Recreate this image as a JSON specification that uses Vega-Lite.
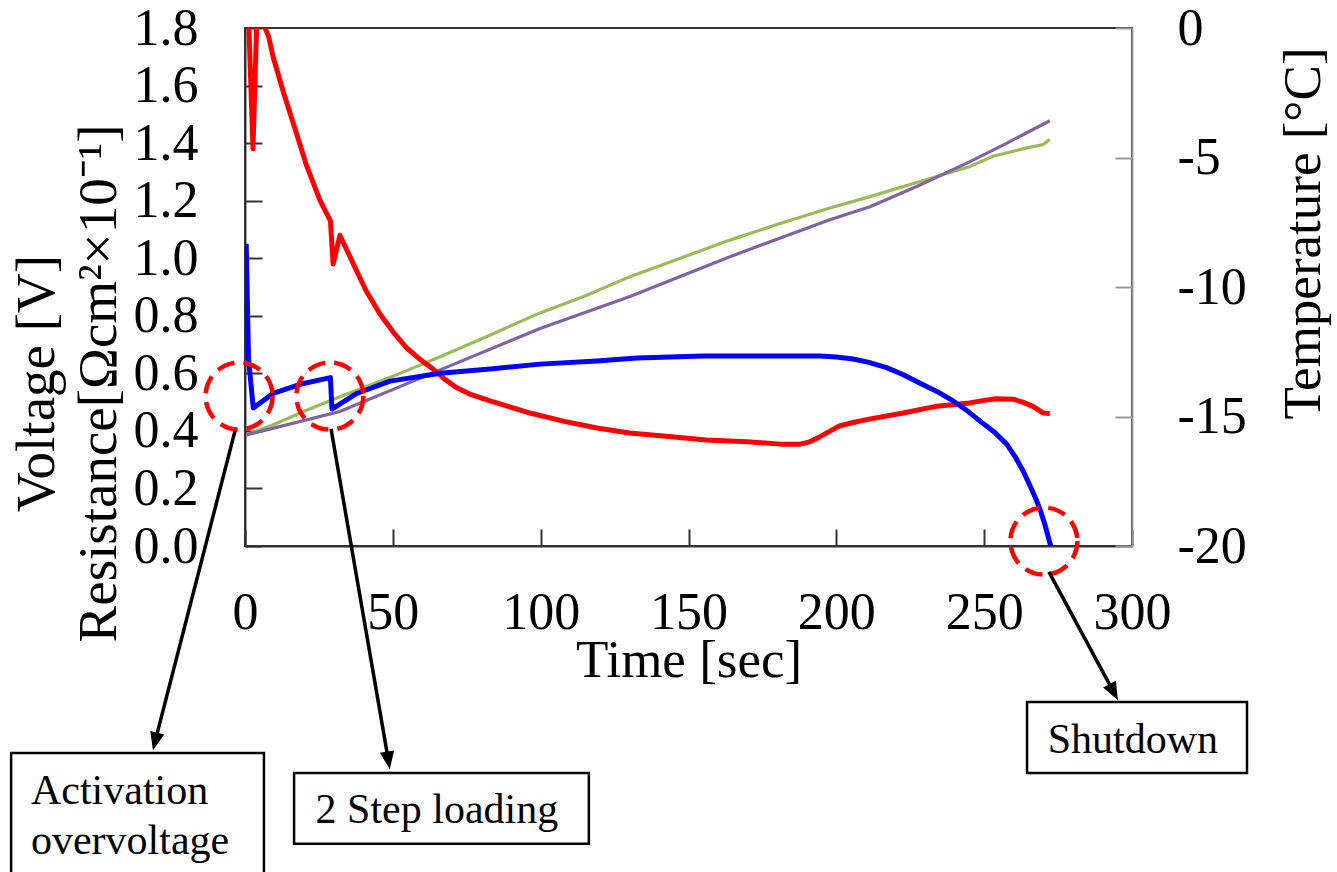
{
  "$schema": "https://vega.github.io/schema/vega-lite/v6.json",
  "width": 887,
  "height": 518,
  "autosize": {"type": "none"},
  "padding": {"left": 245, "top": 28, "right": 205, "bottom": 326},
  "background": "white",
  "config": {
    "view": {"stroke": "#333333", "strokeWidth": 2},
    "axis": {
      "grid": false,
      "labelFont": "Liberation Serif",
      "titleFont": "Liberation Serif",
      "labelColor": "#000000",
      "titleColor": "#000000",
      "titleFontWeight": "normal",
      "labelFontSize": 52,
      "titleFontSize": 53,
      "labelFlush": false,
      "labelOverlap": false,
      "tickSize": -17,
      "tickWidth": 2,
      "domainWidth": 2
    }
  },
  "datasets": {
    "resistance": [
      {"time": 0, "value": 1.9}, {"time": 1.0, "value": 1.9}, {"time": 2.7, "value": 1.38},
      {"time": 4.2, "value": 1.9}, {"time": 6.0, "value": 1.82}, {"time": 8.0, "value": 1.77},
      {"time": 9.5, "value": 1.7}, {"time": 12.9, "value": 1.58}, {"time": 16.3, "value": 1.47},
      {"time": 20.9, "value": 1.32}, {"time": 25.4, "value": 1.2}, {"time": 28.9, "value": 1.13},
      {"time": 29.8, "value": 0.98}, {"time": 32.1, "value": 1.08}, {"time": 37.8, "value": 0.955},
      {"time": 41, "value": 0.886}, {"time": 45.7, "value": 0.805}, {"time": 50, "value": 0.745},
      {"time": 54.7, "value": 0.688}, {"time": 59, "value": 0.65}, {"time": 63.6, "value": 0.615},
      {"time": 67.5, "value": 0.58}, {"time": 71.6, "value": 0.55}, {"time": 76, "value": 0.528},
      {"time": 82.9, "value": 0.504}, {"time": 89, "value": 0.485}, {"time": 96.4, "value": 0.462},
      {"time": 107.6, "value": 0.434}, {"time": 119, "value": 0.41}, {"time": 130, "value": 0.393},
      {"time": 141.5, "value": 0.382}, {"time": 156, "value": 0.368}, {"time": 169.8, "value": 0.362},
      {"time": 181, "value": 0.354}, {"time": 187.7, "value": 0.354}, {"time": 191, "value": 0.362},
      {"time": 194.5, "value": 0.38}, {"time": 198, "value": 0.4}, {"time": 201, "value": 0.417},
      {"time": 206, "value": 0.43}, {"time": 211, "value": 0.441}, {"time": 222.6, "value": 0.462},
      {"time": 234, "value": 0.486}, {"time": 245, "value": 0.497}, {"time": 250, "value": 0.506},
      {"time": 254, "value": 0.512}, {"time": 259.8, "value": 0.51}, {"time": 263, "value": 0.5},
      {"time": 266.5, "value": 0.485}, {"time": 270, "value": 0.462}, {"time": 272.2, "value": 0.46}
    ],
    "voltage": [
      {"time": 0.4, "value": 1.05}, {"time": 1.2, "value": 0.65}, {"time": 2.8, "value": 0.48},
      {"time": 9.5, "value": 0.53}, {"time": 18.6, "value": 0.562}, {"time": 28.9, "value": 0.585},
      {"time": 29.4, "value": 0.476}, {"time": 37.8, "value": 0.53}, {"time": 49, "value": 0.573},
      {"time": 66, "value": 0.6}, {"time": 82.9, "value": 0.615}, {"time": 99.8, "value": 0.632},
      {"time": 119, "value": 0.643}, {"time": 132.5, "value": 0.653}, {"time": 155, "value": 0.66},
      {"time": 194.5, "value": 0.66}, {"time": 200, "value": 0.657}, {"time": 205.7, "value": 0.65},
      {"time": 211, "value": 0.638}, {"time": 217, "value": 0.62}, {"time": 222.5, "value": 0.596},
      {"time": 228, "value": 0.567}, {"time": 234, "value": 0.537}, {"time": 239.5, "value": 0.504},
      {"time": 244, "value": 0.472}, {"time": 248.6, "value": 0.434}, {"time": 253.5, "value": 0.395},
      {"time": 257.6, "value": 0.354}, {"time": 260.5, "value": 0.31}, {"time": 263.2, "value": 0.26},
      {"time": 265.7, "value": 0.205}, {"time": 267.8, "value": 0.156}, {"time": 269.3, "value": 0.115},
      {"time": 270.5, "value": 0.076}, {"time": 272.5, "value": 0.0}
    ],
    "temp1": [
      {"time": 0.5, "temp": -15.71}, {"time": 10, "temp": -15.3}, {"time": 20, "temp": -14.8},
      {"time": 32.1, "temp": -14.24}, {"time": 50, "temp": -13.45}, {"time": 66, "temp": -12.69},
      {"time": 83, "temp": -11.85}, {"time": 99.8, "temp": -11.0}, {"time": 115, "temp": -10.35},
      {"time": 130.2, "temp": -9.6}, {"time": 147, "temp": -8.9}, {"time": 164, "temp": -8.19},
      {"time": 181, "temp": -7.55}, {"time": 197.8, "temp": -6.95}, {"time": 211.4, "temp": -6.51},
      {"time": 228.3, "temp": -5.93}, {"time": 245.2, "temp": -5.35}, {"time": 253, "temp": -4.95},
      {"time": 264.4, "temp": -4.63}, {"time": 270, "temp": -4.5}, {"time": 272.2, "temp": -4.3}
    ],
    "temp2": [
      {"time": 0.5, "temp": -15.71}, {"time": 32.1, "temp": -14.81}, {"time": 66, "temp": -13.2},
      {"time": 99.8, "temp": -11.6}, {"time": 130.2, "temp": -10.37}, {"time": 164, "temp": -8.83},
      {"time": 197.8, "temp": -7.4}, {"time": 211.4, "temp": -6.9}, {"time": 228.3, "temp": -6.06},
      {"time": 245.2, "temp": -5.16}, {"time": 256.4, "temp": -4.52}, {"time": 272.2, "temp": -3.58}
    ],
    "circles": [
      {"time": -2.0, "value": 0.521}, {"time": 28.7, "value": 0.521}, {"time": 270.2, "value": 0.017}
    ],
    "arrows": [
      {"arrow": 1, "time": -3.38, "value": 0.4, "time2": -30.4, "value2": -0.679},
      {"arrow": 2, "time": 29.1, "value": 0.407, "time2": 48.5, "value2": -0.745},
      {"arrow": 3, "time": 271.9, "value": -0.09, "time2": 293.8, "value2": -0.508}
    ],
    "boxes": [
      {"box": "Activation overvoltage", "time": -79.1, "time2": 6.4, "value": -0.719, "value2": -1.18},
      {"box": "2 Step loading", "time": 16.6, "time2": 116.3, "value": -0.789, "value2": -1.035},
      {"box": "Shutdown", "time": 264.5, "time2": 338.9, "value": -0.542, "value2": -0.789}
    ],
    "leftLabels": [
      {"text": "Activation", "time": -72.4, "value": -0.896},
      {"text": "overvoltage", "time": -72.4, "value": -1.07}
    ],
    "centerLabels": [
      {"text": "2 Step loading", "time": 64.9, "value": -0.962},
      {"text": "Shutdown", "time": 300.3, "value": -0.719}
    ]
  },
  "encoding": {
    "x": {
      "field": "time",
      "type": "quantitative",
      "scale": {"domain": [0, 300], "nice": false, "zero": false},
      "axis": {
        "values": [0, 50, 100, 150, 200, 250, 300],
        "domainColor": "#333333",
        "tickColor": "#333333",
        "labelBaseline": "alphabetic",
        "labelPadding": 99,
        "title": "Time [sec]",
        "titleBaseline": "alphabetic",
        "titleY": 130
      }
    }
  },
  "layer": [
    {
      "encoding": {
        "y": {
          "field": "temp",
          "type": "quantitative",
          "scale": {"domain": [-20, 0], "nice": false, "zero": false},
          "axis": {
            "orient": "right",
            "values": [-20, -15, -10, -5, 0],
            "labelExpr": "toString(datum.value)",
            "domainColor": "#999999",
            "tickColor": "#999999",
            "labelAlign": "left",
            "labelPadding": 62,
            "title": "Temperature [°C]",
            "titleAngle": 270,
            "titleAlign": "center",
            "titleBaseline": "alphabetic",
            "titleX": 187,
            "titleY": 205
          }
        }
      },
      "layer": [
        {"data": {"name": "temp1"}, "mark": {"type": "line", "color": "#9bbb59", "strokeWidth": 3.2}},
        {"data": {"name": "temp2"}, "mark": {"type": "line", "color": "#8064a2", "strokeWidth": 3.2}}
      ]
    },
    {
      "encoding": {
        "y": {
          "field": "value",
          "type": "quantitative",
          "scale": {"domain": [0, 1.8], "nice": false, "zero": false},
          "axis": {
            "orient": "left",
            "values": [0, 0.2, 0.4, 0.6, 0.8, 1.0, 1.2, 1.4, 1.6, 1.8],
            "format": ".1f",
            "domainColor": "#333333",
            "tickColor": "#333333",
            "labelPadding": 64,
            "title": ["Voltage [V]", "Resistance[Ωcm²×10⁻¹]"],
            "titleFontSize": 55,
            "titleAngle": 270,
            "titleAlign": "center",
            "titleBaseline": "alphabetic",
            "titleX": -192,
            "titleY": 355,
            "titleLineHeight": 62
          }
        }
      },
      "layer": [
        {"data": {"name": "resistance"}, "mark": {"type": "line", "color": "#ff0000", "strokeWidth": 5, "clip": true, "strokeJoin": "round"}},
        {"data": {"name": "voltage"}, "mark": {"type": "line", "color": "#0000ff", "strokeWidth": 5, "clip": true, "strokeJoin": "round"}},
        {"data": {"name": "circles"}, "mark": {"type": "point", "shape": "circle", "filled": false, "stroke": "#ff0000", "strokeWidth": 4.5, "strokeDash": [18, 9], "size": 4490, "opacity": 1}},
        {"data": {"name": "arrows"}, "mark": {"type": "rule", "color": "#000000", "strokeWidth": 3.5}, "encoding": {"x2": {"field": "time2"}, "y2": {"field": "value2"}}},
        {"data": {"name": "arrows"}, "transform": [{"filter": "datum.arrow == 1"}], "mark": {"type": "point", "shape": "M-0.8,-1L0.8,-1L0,1Z", "filled": true, "color": "#000000", "size": 324, "angle": 14, "opacity": 1}, "encoding": {"x": {"field": "time2", "type": "quantitative"}, "y": {"field": "value2", "type": "quantitative"}}},
        {"data": {"name": "arrows"}, "transform": [{"filter": "datum.arrow == 2"}], "mark": {"type": "point", "shape": "M-0.8,-1L0.8,-1L0,1Z", "filled": true, "color": "#000000", "size": 324, "angle": 351, "opacity": 1}, "encoding": {"x": {"field": "time2", "type": "quantitative"}, "y": {"field": "value2", "type": "quantitative"}}},
        {"data": {"name": "arrows"}, "transform": [{"filter": "datum.arrow == 3"}], "mark": {"type": "point", "shape": "M-0.8,-1L0.8,-1L0,1Z", "filled": true, "color": "#000000", "size": 324, "angle": 332, "opacity": 1}, "encoding": {"x": {"field": "time2", "type": "quantitative"}, "y": {"field": "value2", "type": "quantitative"}}},
        {"data": {"name": "boxes"}, "mark": {"type": "rect", "fill": "#ffffff", "stroke": "#000000", "strokeWidth": 2.5}, "encoding": {"x2": {"field": "time2"}, "y2": {"field": "value2"}}},
        {"data": {"name": "leftLabels"}, "mark": {"type": "text", "font": "Liberation Serif", "fontSize": 42, "align": "left", "baseline": "alphabetic", "color": "#000000"}, "encoding": {"text": {"field": "text"}}},
        {"data": {"name": "centerLabels"}, "mark": {"type": "text", "font": "Liberation Serif", "fontSize": 42, "align": "center", "baseline": "alphabetic", "color": "#000000"}, "encoding": {"text": {"field": "text"}}}
      ]
    }
  ],
  "resolve": {"scale": {"y": "independent"}}
}
